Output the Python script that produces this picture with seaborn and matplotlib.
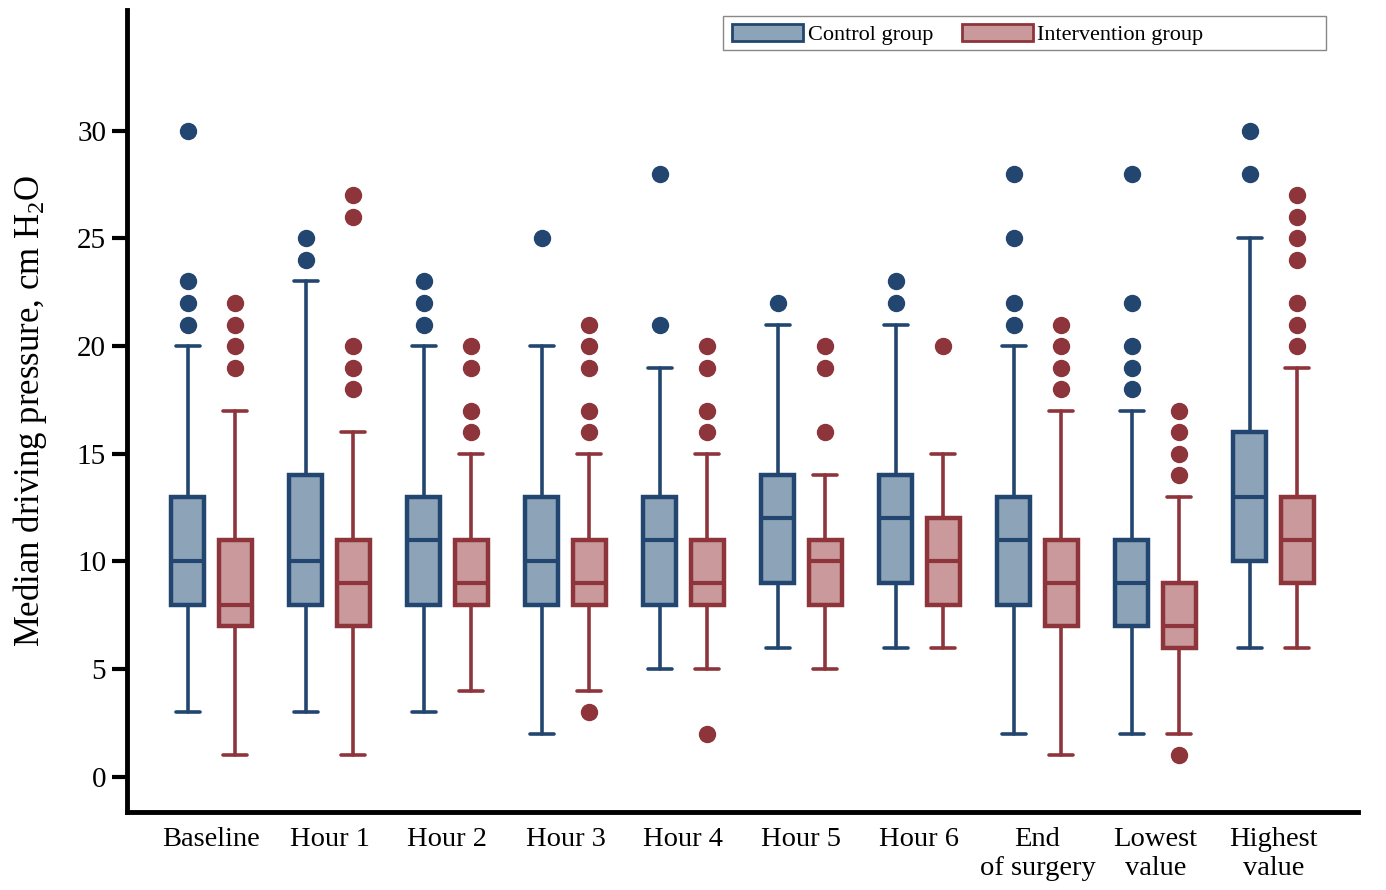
import matplotlib
matplotlib.use("Agg")
import matplotlib.pyplot as plt
import seaborn as sns
from matplotlib.patches import Patch, Rectangle

# time points on the x axis
timepoints = ["Baseline", "Hour 1", "Hour 2", "Hour 3", "Hour 4", "Hour 5",
              "Hour 6", "End\nof surgery", "Lowest\nvalue", "Highest\nvalue"]

# control group: whisker low, q1, median, q3, whisker high, outliers
ctrl_low = [3, 3, 3, 2, 5, 6, 6, 2, 2, 6]
ctrl_q1 = [8, 8, 8, 8, 8, 9, 9, 8, 7, 10]
ctrl_med = [10, 10, 11, 10, 11, 12, 12, 11, 9, 13]
ctrl_q3 = [13, 14, 13, 13, 13, 14, 14, 13, 11, 16]
ctrl_high = [20, 23, 20, 20, 19, 21, 21, 20, 17, 25]
ctrl_fliers = [[21, 22, 23, 30], [24, 25], [21, 22, 23], [25], [21, 28],
               [22], [22, 23], [21, 22, 25, 28], [18, 19, 20, 22, 28], [28, 30]]

# intervention group
int_low = [1, 1, 4, 4, 5, 5, 6, 1, 2, 6]
int_q1 = [7, 7, 8, 8, 8, 8, 8, 7, 6, 9]
int_med = [8, 9, 9, 9, 9, 10, 10, 9, 7, 11]
int_q3 = [11, 11, 11, 11, 11, 11, 12, 11, 9, 13]
int_high = [17, 16, 15, 15, 15, 14, 15, 17, 13, 19]
int_fliers = [[19, 20, 21, 22], [18, 19, 20, 26, 27], [16, 17, 19, 20],
              [3, 16, 17, 19, 20, 21], [2, 16, 17, 19, 20], [16, 19, 20], [20],
              [18, 19, 20, 21], [1, 14, 15, 16, 17], [20, 21, 22, 24, 25, 26, 27]]

ctrl_edge, ctrl_fill = "#22466f", "#8da3b8"
int_edge, int_fill = "#8e343b", "#c9999b"

sns.set_theme(style="ticks")
plt.rcParams["font.family"] = ["Liberation Serif", "DejaVu Serif"]
plt.rcParams["mathtext.fontset"] = "custom"
plt.rcParams["mathtext.rm"] = "Liberation Serif"
plt.rcParams["mathtext.it"] = "Liberation Serif:italic"
plt.rcParams["text.color"] = "black"
plt.rcParams["axes.labelcolor"] = "black"
plt.rcParams["xtick.color"] = "black"
plt.rcParams["ytick.color"] = "black"


def make_stats(low, q1, med, q3, high, fliers):
    return [dict(whislo=a, q1=b, med=c, q3=d, whishi=e, fliers=f)
            for a, b, c, d, e, f in zip(low, q1, med, q3, high, fliers)]


def draw(ax, stats, positions, edge, fill):
    ax.bxp(stats, positions=positions, widths=0.28, capwidths=0.2,
           patch_artist=True, manage_ticks=False,
           boxprops=dict(facecolor=fill, edgecolor=edge, linewidth=3.2),
           medianprops=dict(color=edge, linewidth=3),
           whiskerprops=dict(color=edge, linewidth=2.6),
           capprops=dict(color=edge, linewidth=2.6),
           flierprops=dict(marker="o", markerfacecolor=edge, markeredgecolor=edge,
                           markersize=11.5, linestyle="none"))


fig = plt.figure(figsize=(13.86, 8.9), dpi=100)
ax = fig.add_axes([0.0916, 0.0876, 0.8882, 0.9012])

idx = list(range(len(timepoints)))
draw(ax, make_stats(ctrl_low, ctrl_q1, ctrl_med, ctrl_q3, ctrl_high, ctrl_fliers),
     [i - 0.2 for i in idx], ctrl_edge, ctrl_fill)
draw(ax, make_stats(int_low, int_q1, int_med, int_q3, int_high, int_fliers),
     [i + 0.2 for i in idx], int_edge, int_fill)

ax.set_xlim(-0.716, len(timepoints) - 1 + 0.716)
ax.set_ylim(-1.63, 35.6)
ax.set_xticks(idx)
ax.set_xticklabels(timepoints, fontsize=20.5, linespacing=1.2)
ax.set_yticks([0, 5, 10, 15, 20, 25, 30])
ax.tick_params(axis="y", labelsize=21, length=11, width=3, direction="out", pad=4)
ax.tick_params(axis="x", length=0, pad=11)
ax.set_ylabel("Median driving pressure, cm H$_2$O", fontsize=25)
ax.yaxis.set_label_coords(-0.063, 0.5)

sns.despine(ax=ax)
for side in ["left", "bottom"]:
    ax.spines[side].set_linewidth(3.5)
    ax.spines[side].set_color("black")

# legend frame spans wider than its entries in the reference
fig.add_artist(Rectangle((723 / 1386, 1 - 50 / 890), 603 / 1386, 34 / 890,
                         transform=fig.transFigure, facecolor="white",
                         edgecolor="#888888", linewidth=1, zorder=4))
handles = [Patch(facecolor=ctrl_fill, edgecolor=ctrl_edge, linewidth=2, label="Control group"),
           Patch(facecolor=int_fill, edgecolor=int_edge, linewidth=2, label="Intervention group")]
leg = fig.legend(handles=handles, loc="center left", bbox_to_anchor=(732 / 1386, 1 - 34.5 / 890),
                 bbox_transform=fig.transFigure, ncol=2, fontsize=16, frameon=False,
                 handlelength=3.2, handleheight=0.8, handletextpad=0.2,
                 columnspacing=1.3, borderpad=0, borderaxespad=0)
leg.set_zorder(5)

fig.savefig("out.png", dpi=100)
plt.close(fig)
